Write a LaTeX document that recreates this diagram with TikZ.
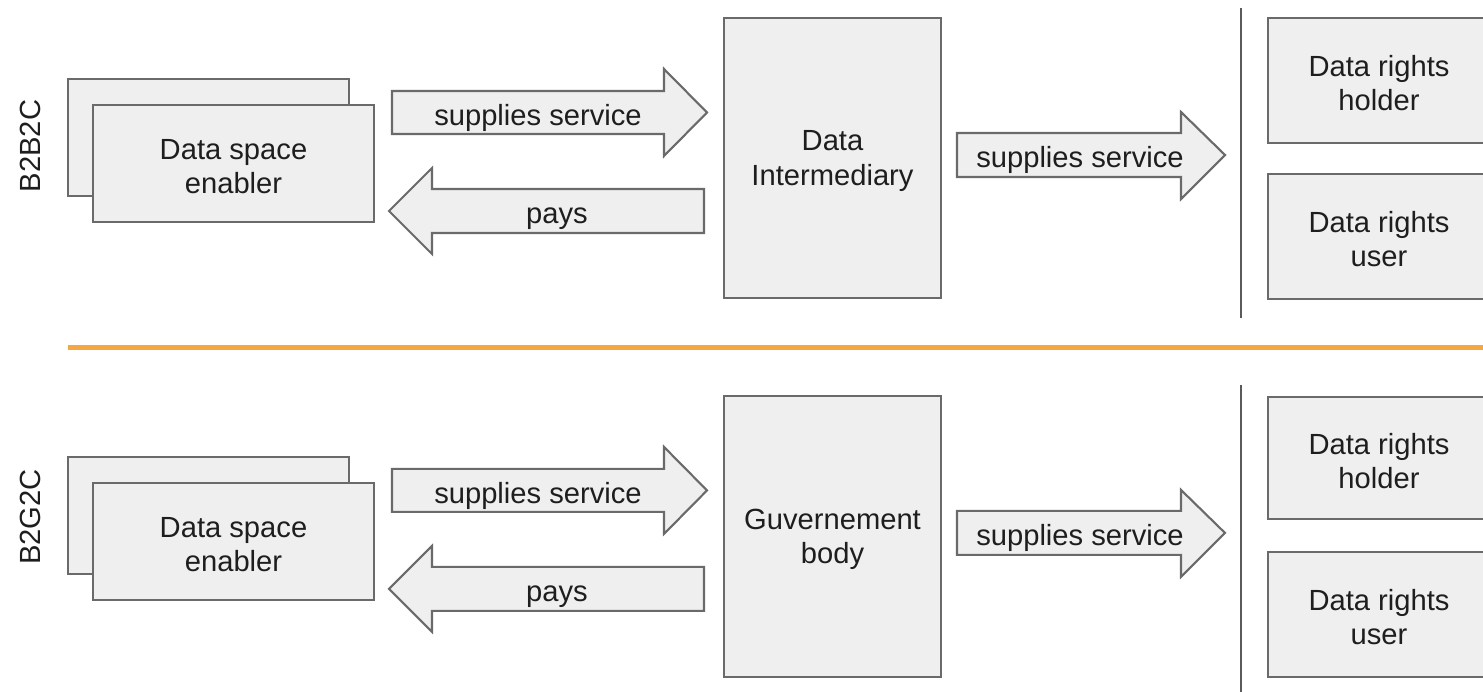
\documentclass[tikz,border=0pt]{standalone}
\usepackage{fontspec}
\setmainfont{Liberation Sans}
\definecolor{boxfill}{HTML}{EFEFEF}
\definecolor{boxline}{HTML}{6A6A6A}
\definecolor{txt}{HTML}{1E1E1E}
\definecolor{orangeline}{HTML}{F5A742}
\definecolor{divline}{HTML}{5A5A5A}
\tikzset{
  box/.style={draw=boxline, fill=boxfill, line width=1.2pt, rectangle, inner sep=0pt},
  blockarrow/.style={draw=boxline, fill=boxfill, line width=1.2pt, line join=miter},
  lbl/.style={text=txt, font=\fontsize{16.6}{19.4}\selectfont, align=center, inner sep=0pt},
  boxlbl/.style={lbl, yshift=-0.06cm},
  divider/.style={draw=divline, line width=1.2pt},
}
\begin{document}
\begin{tikzpicture}[x=0.02cm, y=-0.02cm]
\useasboundingbox (0,0) rectangle (1483,692);
\clip (0,0) rectangle (1483,692);

% ---------- top section: B2B2C ----------
\node[lbl, rotate=90] (secA) at (30,146) {B2B2C};
\node[box, minimum width=5.62cm, minimum height=2.34cm] (backA) at (208.5,137.5) {};
\node[box, minimum width=5.62cm, minimum height=2.34cm] (frontA) at (233.5,163.5) {};
\node[boxlbl] (frontAt) at (frontA.center) {Data space\\enabler};

\draw[blockarrow] (392,91) -- (664,91) -- (664,69) -- (707,112.5) -- (664,156) -- (664,134) -- (392,134) -- cycle;
\node[lbl, anchor=base] (supA) at (538,126) {supplies service};
\draw[blockarrow] (704,189) -- (432,189) -- (432,168) -- (389,211) -- (432,254) -- (432,233) -- (704,233) -- cycle;
\node[lbl, anchor=base] (payA) at (557,224) {pays};

\node[box, minimum width=4.34cm, minimum height=5.6cm] (inter) at (832.5,158) {};
\node[boxlbl] (intert) at (inter.center) {Data\\Intermediary};

\draw[blockarrow] (957,133) -- (1181,133) -- (1181,112) -- (1225,155) -- (1181,199) -- (1181,177) -- (957,177) -- cycle;
\node[lbl, anchor=base] (supA2) at (1080,168) {supplies service};

\coordinate (divAt) at (1241,8);
\coordinate (divAb) at (1241,318);
\draw[divider] (divAt) -- (divAb);

\node[box, minimum width=4.44cm, minimum height=2.5cm] (holderA) at (1379,80.5) {};
\node[boxlbl] (holderAt) at (holderA.center) {Data rights\\holder};
\node[box, minimum width=4.44cm, minimum height=2.5cm] (userA) at (1379,236.5) {};
\node[boxlbl] (userAt) at (userA.center) {Data rights\\user};

% ---------- separator ----------
\coordinate (sepL) at (68,347);
\coordinate (sepR) at (1490,347);
\draw[orangeline, line width=0.1cm] (sepL) -- (sepR);

% ---------- bottom section: B2G2C ----------
\node[lbl, rotate=90] (secB) at (30,517) {B2G2C};
\node[box, minimum width=5.62cm, minimum height=2.34cm] (backB) at (208.5,515.5) {};
\node[box, minimum width=5.62cm, minimum height=2.34cm] (frontB) at (233.5,541.5) {};
\node[boxlbl] (frontBt) at (frontB.center) {Data space\\enabler};

\begin{scope}[yshift=-7.56cm]
\draw[blockarrow] (392,91) -- (664,91) -- (664,69) -- (707,112.5) -- (664,156) -- (664,134) -- (392,134) -- cycle;
\node[lbl, anchor=base] (supB) at (538,126) {supplies service};
\draw[blockarrow] (704,189) -- (432,189) -- (432,168) -- (389,211) -- (432,254) -- (432,233) -- (704,233) -- cycle;
\node[lbl, anchor=base] (payB) at (557,224) {pays};
\draw[blockarrow] (957,133) -- (1181,133) -- (1181,112) -- (1225,155) -- (1181,199) -- (1181,177) -- (957,177) -- cycle;
\node[lbl, anchor=base] (supB2) at (1080,168) {supplies service};
\end{scope}

\node[box, minimum width=4.34cm, minimum height=5.62cm] (gov) at (832.5,536.5) {};
\node[boxlbl] (govt) at (gov.center) {Guvernement\\body};

\coordinate (divBt) at (1241,385);
\coordinate (divBb) at (1241,692);
\draw[divider] (divBt) -- (divBb);

\node[box, minimum width=4.44cm, minimum height=2.44cm] (holderB) at (1379,458) {};
\node[boxlbl] (holderBt) at (holderB.center) {Data rights\\holder};
\node[box, minimum width=4.44cm, minimum height=2.5cm] (userB) at (1379,614.5) {};
\node[boxlbl] (userBt) at (userB.center) {Data rights\\user};
\end{tikzpicture}
\end{document}
